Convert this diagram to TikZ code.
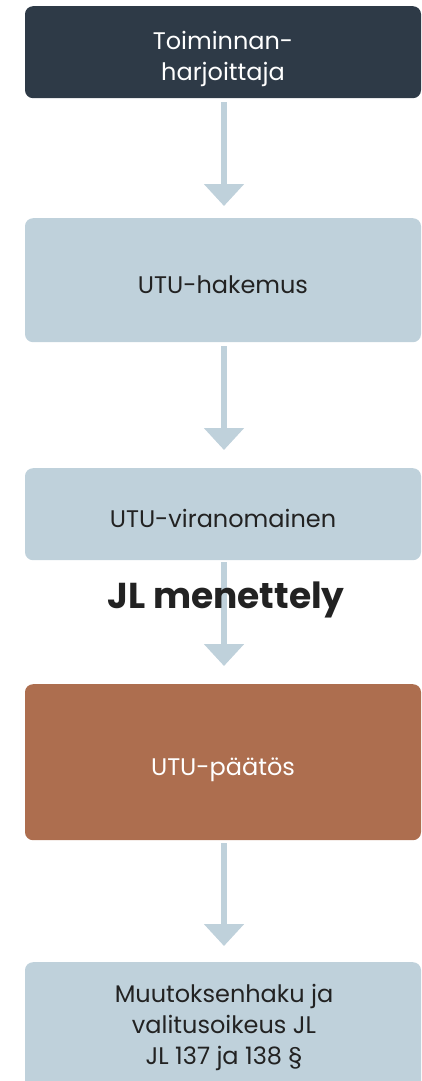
\documentclass[tikz,border=0pt]{standalone}
\usepackage{fontspec}
\setmainfont{Poppins}
\usepackage{tikz}
\usetikzlibrary{arrows.meta}
\usetikzlibrary{positioning}

\definecolor{darkBox}{HTML}{2E3A47}
\definecolor{lightBox}{HTML}{BFD1DB}
\definecolor{brownBox}{HTML}{AD6E4F}
\definecolor{textDark}{HTML}{222222}

\begin{document}
\begin{tikzpicture}[
        x=1pt,y=-1pt,
        boxS/.style={
            rectangle,
            rounded corners=8pt,
            align=center,
            minimum width=396pt,
            anchor=north,
            inner sep=0pt,
            text height=26pt,
            text depth=0pt,
            font=\fontsize{24}{31}\selectfont,
            text=textDark,
            fill=lightBox
        },
        darkS/.style={boxS, fill=darkBox, text=white},
        brownS/.style={boxS, fill=brownBox, text=white},
        arrowS/.style={
            draw=lightBox,
            line width=6pt,
            -{Triangle[length=22pt,width=39pt]}
        },
    ]
    \useasboundingbox (0,0) rectangle (422,1081);
    \clip (0,0) rectangle (422,1080);

	\node[darkS, minimum height=92pt, text height=57pt] (T) at (223,6) {Toiminnan-\\harjoittaja};
	\node[boxS, minimum height=124pt] (H) at (223,218) {UTU-hakemus};
	\node[boxS, minimum height=92pt] (V) at (223,468) {UTU-viranomainen};
	\node[brownS, minimum height=156pt] (P) at (223,684) {UTU-päätös};
	% last box runs off the bottom edge
	\node[boxS, minimum height=140pt] (M) at (223,962) {};
	\node[align=center, font=\fontsize{24}{31}\selectfont, text=textDark] (MT) at (224,1027) {Muutoksenhaku ja\\valitusoikeus JL\\JL 137 ja 138 §};

	\draw[arrowS] ([xshift=1pt,yshift=-4pt]T.south) -- ([xshift=1pt,yshift=12pt]H.north);
	\draw[arrowS] ([xshift=1pt,yshift=-4pt]H.south) -- ([xshift=1pt,yshift=18pt]V.north);
	\draw[arrowS] ([xshift=1pt,yshift=-2pt]V.south) -- ([xshift=1pt,yshift=18pt]P.north);
	\draw[arrowS] ([xshift=1pt,yshift=-3pt]P.south) -- ([xshift=1pt,yshift=16pt]M.north);

	\node[font=\bfseries\fontsize{36}{36}\selectfont, text=textDark] (JL) at (226,600) {JL menettely};
    \end{tikzpicture}
\end{document}
